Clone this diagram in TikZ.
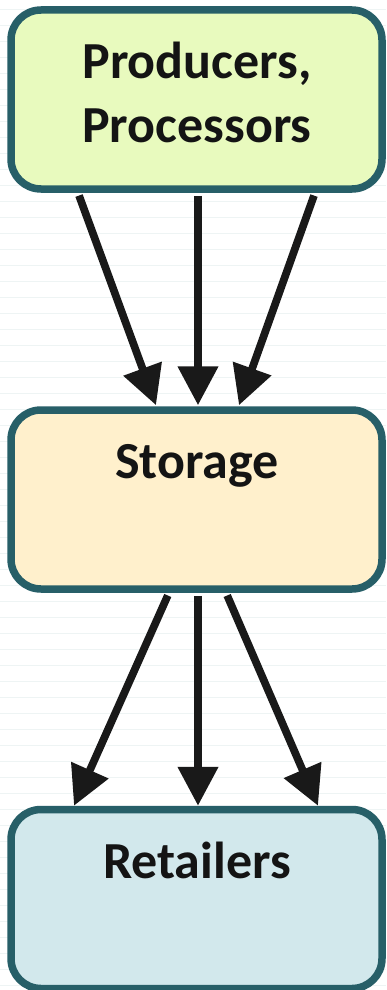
\documentclass[tikz,border=0pt]{standalone}
\usepackage{fontspec}
\setmainfont{Carlito}
\usetikzlibrary{arrows.meta}
\definecolor{bordercol}{HTML}{275F68}
\definecolor{fillA}{HTML}{E8FABE}
\definecolor{fillB}{HTML}{FFF0CC}
\definecolor{fillC}{HTML}{D2E8EC}
\definecolor{textcol}{HTML}{141414}
\definecolor{arrcol}{HTML}{191919}
\definecolor{rulecol}{HTML}{EEF4F4}
\tikzset{
  box/.style={draw=bordercol, line width=7.5pt, rounded corners=30pt,
    minimum width=371pt, minimum height=179pt, inner sep=0pt},
  lbl/.style={font=\fontsize{52}{64}\selectfont\bfseries, text=textcol,
    align=center, inner sep=0pt},
  arr/.style={draw=arrcol, line width=7.7pt,
    -{Triangle[length=39pt,width=39pt]}, shorten <=3pt},
}
\begin{document}
\begin{tikzpicture}[x=1pt,y=-1pt]
\useasboundingbox (0,0) rectangle (386,990);
\fill[white] (0,0) rectangle (386,990);
\foreach \k in {0,...,61}{
  \draw[rulecol, line width=1.5pt] (0,9.7+16*\k) -- (386,9.7+16*\k);
}
\node[box, fill=fillA] (p) at (196.5,99.5) {};
\node[box, fill=fillB] (s) at (196.5,499.5) {};
\node[box, fill=fillC] (r) at (196.5,899) {};
\node[lbl, anchor=base] (pt) at (197,142) {Producers,\\Processors};
\node[lbl, anchor=base] (st) at (197,478) {Storage};
\node[lbl, anchor=base] (rt) at (197,878) {Retailers};
\draw[arr] ([xshift=-118.5pt]p.south) -- ([xshift=-40.5pt,yshift=1pt]s.north);
\draw[arr] ([xshift=1.5pt]p.south) -- ([xshift=1.5pt,yshift=1pt]s.north);
\draw[arr] ([xshift=118.5pt]p.south) -- ([xshift=42.5pt,yshift=1pt]s.north);
\draw[arr] ([xshift=-27.5pt]s.south) -- ([xshift=-122.5pt]r.north);
\draw[arr] ([xshift=1.5pt]s.south) -- ([xshift=1.5pt]r.north);
\draw[arr] ([xshift=29.5pt]s.south) -- ([xshift=121.5pt]r.north);
\end{tikzpicture}
\end{document}
